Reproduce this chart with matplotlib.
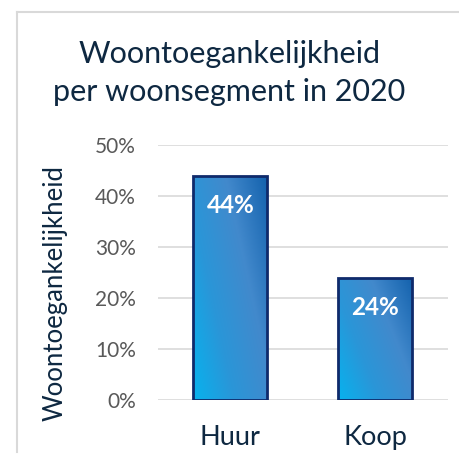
import numpy as np
import matplotlib.pyplot as plt
from matplotlib.colors import LinearSegmentedColormap
from matplotlib.lines import Line2D

categories = ['Huur', 'Koop']
values = [0.44, 0.24]
yticks = [0, 0.1, 0.2, 0.3, 0.4, 0.5]
ytick_labels = ['0%', '10%', '20%', '30%', '40%', '50%']

plt.rcParams['font.family'] = ['Lato', 'DejaVu Sans']

fig = plt.figure(figsize=(4.59, 4.66), dpi=100)
ax = fig.add_axes([0.344, 0.1416, 0.632, 0.5474])

# light frame around the chart (top and left only visible)
fig.add_artist(Line2D([0.037, 0.037], [0.03, 0.974], color='#d9d9d9', lw=1.5,
                      transform=fig.transFigure))
fig.add_artist(Line2D([0.037, 1.0], [0.974, 0.974], color='#d9d9d9', lw=1.5,
                      transform=fig.transFigure))

x = np.arange(len(categories))
bars = ax.bar(x, values, width=0.51, facecolor='none', edgecolor='#0f2a6b',
              linewidth=2, zorder=3)

# diagonal gradient fill
cmap = LinearSegmentedColormap.from_list('grad', ['#07b2ee', '#2a96d8', '#4289cc', '#1462ad'])
gx, gy = np.meshgrid(np.linspace(0, 1, 200), np.linspace(0, 1, 200))
grad = (gx * 0.6 + (1 - gy) * 0.4)
for b in bars:
    x0, w, h = b.get_x(), b.get_width(), b.get_height()
    im = ax.imshow(grad, cmap=cmap, extent=[x0, x0 + w, 0, h], origin='upper',
                   aspect='auto', zorder=2)
    im.set_clip_path(b)

for xi, v in zip(x, values):
    ax.text(xi, v - 0.058, f'{round(v * 100)}%', ha='center', va='center',
            color='white', fontsize=17.5, fontweight='bold', zorder=4)

ax.set_xlim(-0.5, 1.5)
ax.set_ylim(0, 0.5)
ax.set_yticks(yticks)
ax.set_yticklabels(ytick_labels, color='#595959', fontsize=15)
ax.set_xticks(x)
ax.set_xticklabels(categories, color='#0e2841', fontsize=19.5)
ax.tick_params(length=0, axis='y', pad=16)
ax.tick_params(length=0, axis='x', pad=18)
ax.grid(axis='y', color='#d9d9d9', lw=1.2, zorder=0)
for s in ax.spines.values():
    s.set_visible(False)
ax.set_ylabel('Woontoegankelijkheid', color='#0e2841', fontsize=18.5)
ax.yaxis.set_label_coords(-0.31, 0.42)

fig.text(0.5, 0.843, 'Woontoegankelijkheid\nper woonsegment in 2020', ha='center',
         va='center', color='#0e2841', fontsize=22, linespacing=1.45)

fig.savefig('out.png', dpi=100)
